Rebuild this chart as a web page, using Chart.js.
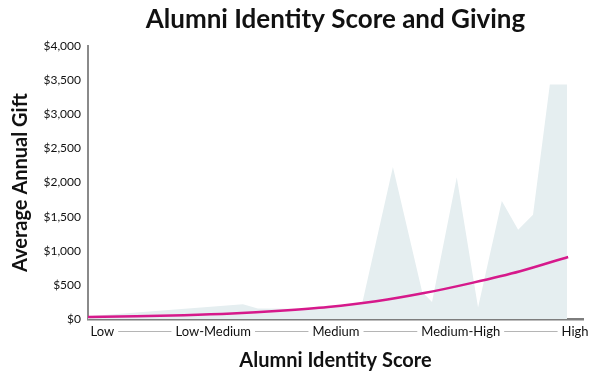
<!DOCTYPE html>
<html lang="en">
<head>
    <meta charset="UTF-8">
    <title>Alumni Identity Score and Giving</title>
    <style>
        body {
            margin: 0;
            padding: 0;
            background: #ffffff;
        }

        .chart-box {
            width: 600px;
            height: 377px;
        }
    </style>
    <script src="https://cdn.jsdelivr.net/npm/chart.js"></script>
</head>
<body>
    <div class="chart-box">
        <canvas id="giving-chart"></canvas>
    </div>

    <script>
        // Score axis runs 0..100 (Low .. High)
        const scoreLabels = ['Low', 'Low-Medium', 'Medium', 'Medium-High', 'High'];
        const scoreLabelPos = [2.9, 25.3, 50.1, 75.3, 98.4];

        // Average gift observed (shaded area)
        const areaScore = [0, 31.3, 34.3, 42.8, 50.9, 55.4, 61.6, 67.5, 69.5, 74.5, 78.8, 83.6, 86.9, 89.9, 93.3, 96.8];
        const areaGift = [40, 215, 155, 150, 200, 230, 2230, 400, 250, 2080, 170, 1730, 1310, 1530, 3440, 3440];

        // Fitted trend (magenta curve)
        const trendScore = [0, 9.7, 19.4, 29.1, 38.8, 48.5, 58.2, 67.9, 77.6, 87.3, 97.0];
        const trendGift = [30, 40, 55, 80, 120, 175, 260, 380, 530, 700, 910];

        const yTicks = [0, 500, 1000, 1500, 2000, 2500, 3000, 3500, 4000];

        const font = "'Lato', 'Open Sans', sans-serif";

        // gray connector lines between the score labels
        const connectorPlugin = {
            id: 'connectors',
            afterDraw(chart) {
                const ctx = chart.ctx;
                const xs = chart.scales.x;
                ctx.save();
                ctx.font = '13px ' + font;
                ctx.strokeStyle = '#b5b5b5';
                ctx.lineWidth = 1;
                const y = 331;
                for (let i = 0; i < scoreLabels.length - 1; i++) {
                    const a = xs.getPixelForValue(scoreLabelPos[i]) + ctx.measureText(scoreLabels[i]).width / 2 + 4;
                    const b = xs.getPixelForValue(scoreLabelPos[i + 1]) - ctx.measureText(scoreLabels[i + 1]).width / 2 - 4;
                    ctx.beginPath();
                    ctx.moveTo(a, y + 0.5);
                    ctx.lineTo(b, y + 0.5);
                    ctx.stroke();
                }
                ctx.restore();
            }
        };

        new Chart(document.getElementById('giving-chart'), {
            type: 'line',
            data: {
                datasets: [
                    {
                        label: 'Trend',
                        data: trendScore.map((x, i) => ({ x: x, y: trendGift[i] })),
                        borderColor: '#d6198b',
                        borderWidth: 2.5,
                        pointRadius: 0,
                        cubicInterpolationMode: 'monotone',
                        fill: false,
                        order: 1
                    },
                    {
                        label: 'Average gift',
                        data: areaScore.map((x, i) => ({ x: x, y: areaGift[i] })),
                        borderWidth: 0,
                        borderColor: 'rgba(0,0,0,0)',
                        backgroundColor: '#e5eef0',
                        pointRadius: 0,
                        tension: 0,
                        fill: 'origin',
                        order: 2
                    }
                ]
            },
            options: {
                responsive: true,
                maintainAspectRatio: false,
                animation: false,
                layout: { padding: { left: 5, right: 17, top: 0, bottom: 0 } },
                plugins: {
                    legend: { display: false },
                    tooltip: { enabled: false },
                    title: {
                        display: true,
                        fullSize: false,
                        text: 'Alumni Identity Score and Giving',
                        color: '#111',
                        font: { family: font, size: 26, weight: 'bold' },
                        padding: { top: 4, bottom: 11 }
                    }
                },
                scales: {
                    x: {
                        type: 'linear',
                        min: 0,
                        max: 100,
                        grid: { display: false, drawTicks: false },
                        border: { display: true, color: '#7d7d7d', width: 2.5 },
                        afterBuildTicks: s => { s.ticks = scoreLabelPos.map(v => ({ value: v })); },
                        ticks: {
                            autoSkip: false,
                            maxRotation: 0,
                            padding: 5,
                            color: '#111',
                            font: { family: font, size: 13 },
                            callback: (v, i) => scoreLabels[i]
                        },
                        title: {
                            display: true,
                            text: 'Alumni Identity Score',
                            color: '#111',
                            font: { family: font, size: 20, weight: 'bold' },
                            padding: { top: 3 }
                        },
                        afterFit: s => { s.height = 58; }
                    },
                    y: {
                        min: 0,
                        max: 4000,
                        grid: { display: false, drawTicks: false },
                        border: { display: true, color: '#8a8a8a', width: 2 },
                        afterBuildTicks: s => { s.ticks = yTicks.map(v => ({ value: v })); },
                        ticks: {
                            padding: 7,
                            color: '#111',
                            font: { family: font, size: 12 },
                            callback: v => '$' + v.toLocaleString('en-US')
                        },
                        title: {
                            display: true,
                            text: 'Average Annual Gift',
                            color: '#111',
                            font: { family: font, size: 20, weight: 'bold' },
                            padding: { bottom: 6 }
                        },
                        afterFit: s => { s.width = 83; }
                    }
                }
            },
            plugins: [connectorPlugin]
        });
    </script>
</body>
</html>
